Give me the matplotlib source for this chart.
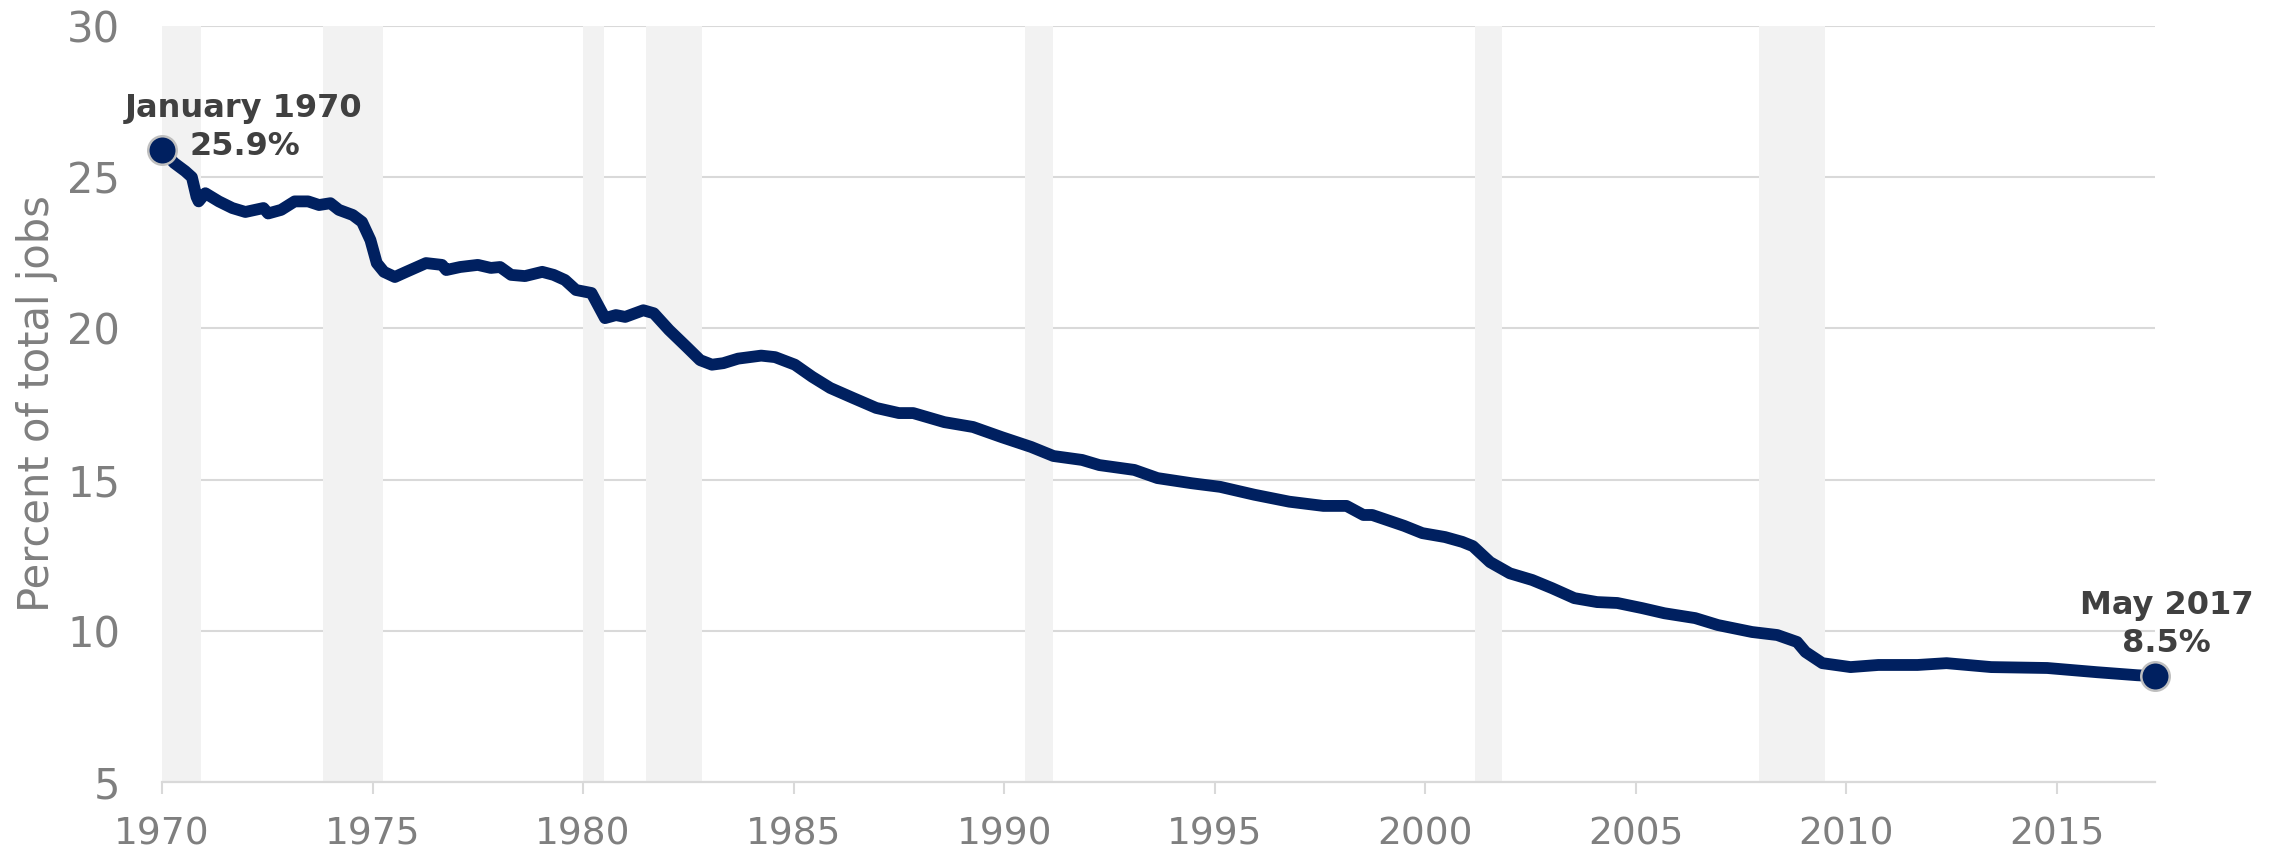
import matplotlib
matplotlib.use("Agg")
import matplotlib.pyplot as plt

# ---- data ----
years = [1970.00, 1970.29, 1970.55, 1970.71, 1970.82, 1970.87, 1971.03, 1971.35, 1971.67, 1971.98,
         1972.41, 1972.52, 1972.83, 1973.15, 1973.47, 1973.73, 1974.00, 1974.20, 1974.53, 1974.75,
         1974.95, 1975.10, 1975.27, 1975.53, 1975.80, 1976.27, 1976.65, 1976.75, 1977.08, 1977.50,
         1977.81, 1978.03, 1978.29, 1978.62, 1979.03, 1979.30, 1979.57, 1979.83, 1980.20, 1980.52,
         1980.78, 1981.00, 1981.43, 1981.68, 1982.04, 1982.45, 1982.78, 1983.06, 1983.33, 1983.68,
         1984.23, 1984.56, 1985.03, 1985.44, 1985.87, 1986.41, 1986.96, 1987.50, 1987.84, 1988.58,
         1989.26, 1989.95, 1990.64, 1991.17, 1991.85, 1992.26, 1993.09, 1993.64, 1994.45, 1995.13,
         1995.94, 1996.77, 1997.58, 1998.13, 1998.53, 1998.74, 1999.50, 1999.93, 2000.47, 2000.88,
         2001.13, 2001.54, 2002.01, 2002.54, 2003.01, 2003.54, 2004.08, 2004.56, 2005.15, 2005.68,
         2006.41, 2006.95, 2007.76, 2008.36, 2008.83, 2009.03, 2009.43, 2010.10, 2010.76, 2011.69,
         2012.38, 2013.44, 2014.77, 2015.96, 2016.91, 2017.33]
share = [25.90, 25.47, 25.20, 25.00, 24.35, 24.20, 24.47, 24.20, 23.98, 23.85,
         23.98, 23.80, 23.92, 24.20, 24.20, 24.08, 24.14, 23.92, 23.75, 23.52,
         22.92, 22.16, 21.87, 21.70, 21.87, 22.16, 22.10, 21.93, 22.03, 22.10,
         22.00, 22.03, 21.77, 21.73, 21.87, 21.77, 21.60, 21.27, 21.17, 20.34,
         20.44, 20.38, 20.60, 20.50, 19.95, 19.40, 18.95, 18.80, 18.85, 19.00,
         19.10, 19.05, 18.80, 18.40, 18.03, 17.70, 17.37, 17.20, 17.20, 16.90,
         16.74, 16.40, 16.08, 15.78, 15.65, 15.48, 15.32, 15.05, 14.88, 14.76,
         14.50, 14.27, 14.13, 14.13, 13.83, 13.83, 13.47, 13.23, 13.10, 12.94,
         12.80, 12.27, 11.90, 11.68, 11.41, 11.08, 10.95, 10.92, 10.75, 10.58,
         10.42, 10.19, 9.96, 9.86, 9.63, 9.30, 8.93, 8.80, 8.87, 8.87,
         8.93, 8.80, 8.77, 8.63, 8.53, 8.50]

rec_start = [1970.00, 1973.83, 1980.00, 1981.50, 1990.50, 2001.17, 2007.92]
rec_end = [1970.92, 1975.25, 1980.50, 1982.83, 1991.17, 2001.83, 2009.50]

x_ticks = [1970, 1975, 1980, 1985, 1990, 1995, 2000, 2005, 2010, 2015]
y_ticks = [5, 10, 15, 20, 25, 30]

first_label = ("January 1970", "25.9%")
last_label = ("May 2017", "8.5%")

# ---- figure ----
plt.rcParams['font.family'] = ['DejaVu Sans']
fig = plt.figure(figsize=(22.82, 8.52), dpi=100)
ax = fig.add_axes([162 / 2282, 1 - 782 / 852, (2155 - 162) / 2282, (782 - 26) / 852])

navy = '#002060'
tick_gray = '#7f7f7f'
grid_gray = '#d9d9d9'
text_dark = '#404040'

for s, e in zip(rec_start, rec_end):
    ax.axvspan(s, e, color='#f2f2f2', lw=0, zorder=1)

ax.plot(years, share, color=navy, lw=8.5, solid_capstyle='round',
        solid_joinstyle='round', zorder=3)
ax.plot([years[0], years[-1]], [share[0], share[-1]], 'o', ms=20.5, mfc=navy,
        mec='#bfbfbf', mew=1.8, zorder=4, clip_on=False)

ax.set_xlim(years[0], years[-1])
ax.set_ylim(5, 30)
ax.set_xticks(x_ticks)
ax.set_yticks(y_ticks)
ax.set_axisbelow(True)
ax.grid(axis='y', color=grid_gray, lw=1.5)
ax.grid(axis='x', visible=False)

for side in ['left', 'right', 'top']:
    ax.spines[side].set_visible(False)
ax.spines['bottom'].set_color(grid_gray)
ax.spines['bottom'].set_linewidth(1.6)

ax.tick_params(axis='y', length=0, pad=30, labelsize=30, labelcolor=tick_gray)
ax.tick_params(axis='x', length=8.6, width=1.5, color=grid_gray, pad=16,
               labelsize=27, labelcolor=tick_gray)

ax.set_ylabel('Percent of total jobs', fontsize=30, color=tick_gray)
ax.yaxis.set_label_coords(-0.052, 0.5)

kw = dict(textcoords='offset pixels', ha='center', va='baseline',
          fontsize=23, fontweight='bold', color=text_dark, annotation_clip=False)
ax.annotate(first_label[0], (years[0], share[0]), xytext=(82, 33), **kw)
ax.annotate(first_label[1], (years[0], share[0]), xytext=(83, -5), **kw)
ax.annotate(last_label[0], (years[-1], share[-1]), xytext=(12, 62), **kw)
ax.annotate(last_label[1], (years[-1], share[-1]), xytext=(11, 24), **kw)

fig.savefig('out.png', dpi=100, facecolor='white')
